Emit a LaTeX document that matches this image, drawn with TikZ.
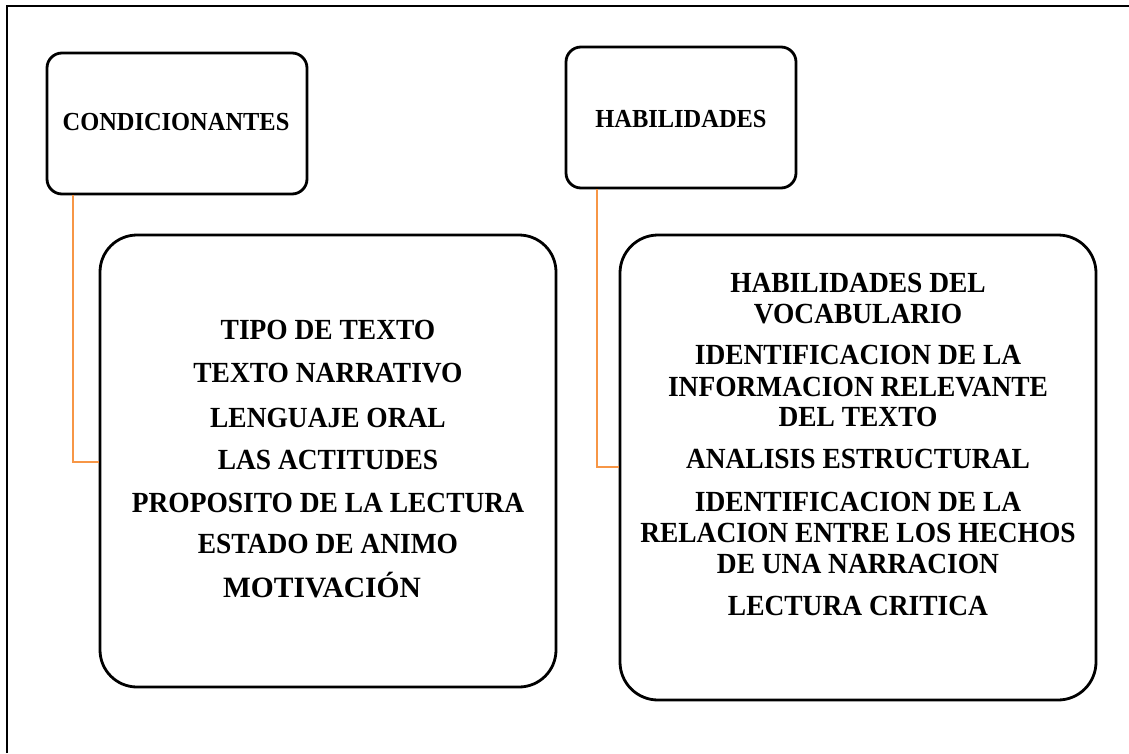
\documentclass[tikz,border=0pt]{standalone}
\usepackage{fontspec}
\setmainfont{Liberation Serif}
\newfontfamily\narrowserif{Liberation Serif}[FakeStretch=0.94]
\definecolor{linkorange}{HTML}{F79646}
\begin{document}
\begin{tikzpicture}[x=1pt,y=-1pt,
  box/.style={draw=black, line width=2.8pt, rounded corners=#1, inner sep=0pt},
  title/.style={font=\narrowserif\bfseries\fontsize{26}{28}\selectfont, inner sep=0pt, anchor=base},
  item/.style={font=\narrowserif\bfseries\fontsize{29.2}{31}\selectfont, inner sep=0pt, anchor=base},
  link/.style={draw=linkorange, line width=2.8pt}]
\useasboundingbox (0,0) rectangle (1129,753);
% outer frame (cropped)
\draw[line width=2.2pt] (7,753) -- (7,6) -- (1129,6);
% boxes
\node[box=15pt, minimum width=260pt, minimum height=141pt] (c1) at (177,123.5) {};
\node[box=15pt, minimum width=230pt, minimum height=141pt] (c2) at (681,117.5) {};
\node[box=37pt, minimum width=456pt, minimum height=452pt] (b1) at (328,461) {};
\node[box=38pt, minimum width=476pt, minimum height=465pt] (b2) at (858,467.5) {};
% titles
\node[title] (t1) at (176,130) {CONDICIONANTES};
\node[title] (t2) at (681,127) {HABILIDADES};
% left list
\node[item] (l1) at (328,339) {TIPO DE TEXTO};
\node[item] (l2) at (328,382) {TEXTO NARRATIVO};
\node[item] (l3) at (328,427) {LENGUAJE ORAL};
\node[item] (l4) at (328,469) {LAS ACTITUDES};
\node[item] (l5) at (328,512) {PROPOSITO DE LA LECTURA};
\node[item] (l6) at (328,553) {ESTADO DE ANIMO};
\node[item, font=\bfseries\fontsize{29.5}{31}\selectfont] (l7) at (322,597) {MOTIVACIÓN};
% right list
\node[item] (r1) at (858,292) {HABILIDADES DEL};
\node[item] (r2) at (858,323) {VOCABULARIO};
\node[item] (r3) at (858,364) {IDENTIFICACION DE LA};
\node[item] (r4) at (858,396) {INFORMACION RELEVANTE};
\node[item] (r5) at (858,426) {DEL TEXTO};
\node[item] (r6) at (858,468) {ANALISIS ESTRUCTURAL};
\node[item] (r7) at (858,511) {IDENTIFICACION DE LA};
\node[item] (r8) at (858,542) {RELACION ENTRE LOS HECHOS};
\node[item] (r9) at (858,573) {DE UNA NARRACION};
\node[item] (r10) at (858,615) {LECTURA CRITICA};
% connectors
\coordinate (k1) at (73,462);
\coordinate (k2) at (597,467);
\draw[link] (c1.south -| k1) -- (k1) -- (k1 -| b1.west);
\draw[link] (c2.south -| k2) -- (k2) -- (k2 -| b2.west);
\end{tikzpicture}
\end{document}
